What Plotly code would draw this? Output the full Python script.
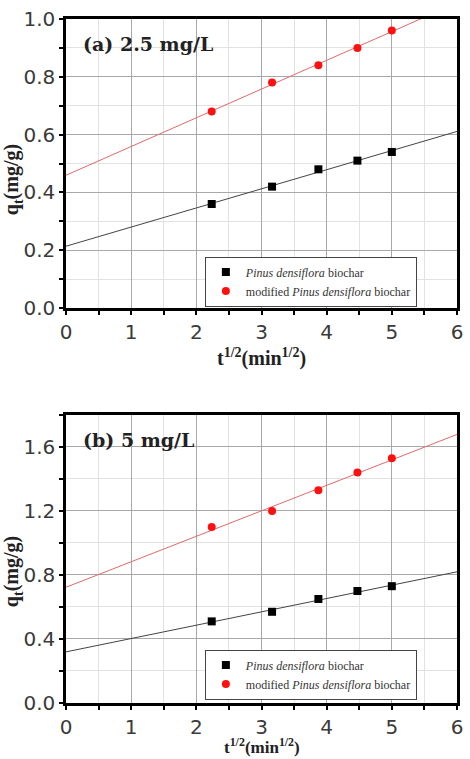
import numpy as np
import plotly.graph_objects as go
from plotly.subplots import make_subplots

# ---- data ----
t_half = [2.236, 3.162, 3.873, 4.472, 5.0]
a_biochar = [0.36, 0.42, 0.48, 0.51, 0.54]
a_modified = [0.68, 0.78, 0.84, 0.90, 0.96]
b_biochar = [0.51, 0.57, 0.65, 0.70, 0.73]
b_modified = [1.10, 1.20, 1.33, 1.44, 1.53]
x_span = [0, 6]
panel_labels = ["(a) 2.5 mg/L", "(b) 5 mg/L"]
name_bio = "<i>Pinus densiflora</i> biochar"
name_mod = "modified <i>Pinus densiflora</i> biochar"

W, H = 470, 759
L, R, T, B = 66, 7, 12, 56
plot_h = H - T - B
top_dom = [(H - B - 304) / plot_h, 1.0]
bot_dom = [0.0, (H - B - 412) / plot_h]

fig = make_subplots(rows=2, cols=1)

def fit(x, y):
    k, b = np.polyfit(x, y, 1)
    xs = np.array(x_span, dtype=float)
    return xs, k * xs + b

panels = [(a_biochar, a_modified, 1, "legend"), (b_biochar, b_modified, 2, "legend2")]
for yb, ym, row, leg in panels:
    xs, ys = fit(t_half, yb)
    fig.add_trace(go.Scatter(x=xs, y=ys, mode="lines", line=dict(color="#444444", width=1),
                             showlegend=False, hoverinfo="skip"), row=row, col=1)
    xs, ys = fit(t_half, ym)
    fig.add_trace(go.Scatter(x=xs, y=ys, mode="lines", line=dict(color="#e06a6a", width=1),
                             showlegend=False, hoverinfo="skip"), row=row, col=1)
    fig.add_trace(go.Scatter(x=t_half, y=yb, mode="markers", name=name_bio, legend=leg,
                             marker=dict(symbol="square", size=8, color="black")), row=row, col=1)
    fig.add_trace(go.Scatter(x=t_half, y=ym, mode="markers", name=name_mod, legend=leg,
                             marker=dict(symbol="circle", size=8, color="#ff1010")), row=row, col=1)

tickfont = dict(family="DejaVu Sans", size=20, color="#3a3a3a")
common = dict(showline=True, linewidth=2.5, linecolor="black", mirror=True,
              showgrid=True, gridcolor="#a8a8a8", gridwidth=1, zeroline=False,
              ticks="outside", ticklen=4, tickwidth=2, tickcolor="black",
              tickfont=tickfont,
              minor=dict(showgrid=True, gridcolor="#e2e2e2", griddash="solid", gridwidth=1,
                         ticks="outside", ticklen=4, tickwidth=2, tickcolor="black"))

fig.update_xaxes(range=[0, 6], dtick=1, **common)
fig.update_xaxes(domain=[0, 1])
fig.update_yaxes(range=[0, 1.0], dtick=0.2, tickformat=".1f", domain=top_dom, row=1, col=1, **common)
fig.update_yaxes(range=[0, 1.8], dtick=0.4, tickformat=".1f", domain=bot_dom, row=2, col=1, **common)
fig.update_xaxes(minor=dict(dtick=0.5), row=1, col=1)
fig.update_xaxes(minor=dict(dtick=0.5), row=2, col=1)
fig.update_yaxes(minor=dict(dtick=0.1), row=1, col=1)
fig.update_yaxes(minor=dict(dtick=0.2), row=2, col=1)

legend_style = dict(x=(207 - L) / (W - L - R), xanchor="left", yanchor="top",
                    bgcolor="white", bordercolor="#444444", borderwidth=1,
                    font=dict(family="Liberation Serif, Times New Roman", size=12, color="#333333"),
                    tracegroupgap=0, itemwidth=30)

fig.update_layout(
    width=W, height=H,
    margin=dict(l=L, r=R, t=T, b=B),
    paper_bgcolor="white", plot_bgcolor="white",
    legend=dict(y=(H - B - 252) / plot_h, **legend_style),
    legend2=dict(y=(H - B - 649) / plot_h, **legend_style),
)

serif_bold = dict(family="DejaVu Serif", size=19, color="#222222")
title_font = dict(family="Liberation Serif, Times New Roman", size=20, color="#222222")
title_font_small = dict(family="Liberation Serif, Times New Roman", size=17, color="#222222")

def px_to_paper_y(py):
    return (H - B - py) / plot_h

def px_to_paper_x(px):
    return (px - L) / (W - L - R)

annos = [
    dict(text="<b>" + panel_labels[0] + "</b>", x=px_to_paper_x(81), y=px_to_paper_y(37)),
    dict(text="<b>" + panel_labels[1] + "</b>", x=px_to_paper_x(81), y=px_to_paper_y(437)),
]
for a in annos:
    fig.add_annotation(xref="paper", yref="paper", xanchor="left", yanchor="middle",
                       showarrow=False, font=serif_bold, **a)

xt = "<b>t<sup>1/2</sup>(min<sup>1/2</sup>)</b>"
yt = "<b>q<sub>t</sub>(mg/g)</b>"
fig.add_annotation(xref="paper", yref="paper", x=px_to_paper_x(265), y=px_to_paper_y(354),
                   xanchor="center", yanchor="middle", showarrow=False, text=xt, font=title_font)
fig.add_annotation(xref="paper", yref="paper", x=px_to_paper_x(265), y=px_to_paper_y(759),
                   xanchor="center", yanchor="bottom", showarrow=False, text=xt,
                   font=title_font_small, borderpad=0)
for py in (174, 570):
    fig.add_annotation(xref="paper", yref="paper", x=px_to_paper_x(12), y=px_to_paper_y(py),
                       xanchor="center", yanchor="middle", showarrow=False, text=yt,
                       font=title_font, textangle=-90)

fig.write_html("out.html")
